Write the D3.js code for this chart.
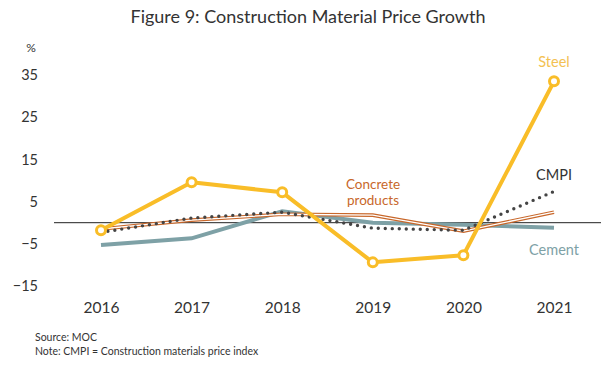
<!DOCTYPE html>
<html><head><meta charset="utf-8">
<script src="https://cdn.jsdelivr.net/npm/d3@7"></script>
<style>body{margin:0;background:#fff}svg{display:block}text{font-family:Lato,"Open Sans",sans-serif}</style>
</head><body><svg id="c" width="615" height="365"></svg>
<script>
const years = ["2016","2017","2018","2019","2020","2021"];
const steel = [-1.8, 9.6, 7.2, -9.4, -7.7, 33.5];
const cement = [-5.3, -3.7, 2.7, 0.0, -0.5, -1.2];
const concrete = [-1.5, 0.6, 2.0, 1.8, -2.0, 2.5];
const cmpi = [-2.3, 1.1, 2.5, -1.3, -1.8, 7.4];
const yTicks = [35, 25, 15, 5, -5, -15];

const svg = d3.select("#c");
const x = d3.scalePoint().domain(years).range([101, 554]);
const y = d3.scaleLinear().domain([-15, 35]).range([286, 75]);

svg.append("text").attr("x", 308).attr("y", 23).attr("text-anchor", "middle")
  .attr("font-size", 18).attr("fill", "#333").text("Figure 9: Construction Material Price Growth");

// y axis labels
const ya = svg.append("g").attr("transform", "translate(38,0)")
  .call(d3.axisLeft(y).tickValues(yTicks).tickSize(0).tickPadding(0).tickFormat(d3.format("d")));
ya.select(".domain").remove();
ya.selectAll("text").attr("font-size", 14.5).attr("fill", "#333").attr("font-family", "Lato,'Open Sans',sans-serif");
svg.append("text").attr("x", 31).attr("y", 52).attr("text-anchor", "middle").attr("font-size", 12).attr("fill", "#333").text("%");

// x axis labels
const xa = svg.append("g").attr("transform", "translate(0,302)")
  .call(d3.axisBottom(x).tickSize(0).tickPadding(0));
xa.select(".domain").remove();
xa.selectAll("text").attr("font-size", 15.5).attr("fill", "#333").attr("dy", "0.71em").attr("font-family", "Lato,'Open Sans',sans-serif");

// zero line
svg.append("line").attr("x1", 54).attr("x2", 601).attr("y1", y(0)).attr("y2", y(0))
  .attr("stroke", "#222").attr("stroke-width", 1);

const line = d3.line().x((d, i) => x(years[i])).y(d => y(d));

svg.append("path").datum(cement).attr("d", line).attr("fill", "none")
  .attr("stroke", "#7ea1a6").attr("stroke-width", 4);
svg.append("path").datum(concrete).attr("d", line).attr("fill", "none")
  .attr("stroke", "#c8672a").attr("stroke-width", 3.6);
svg.append("path").datum(concrete).attr("d", line).attr("fill", "none")
  .attr("stroke", "#fff").attr("stroke-width", 1.4);
svg.append("path").datum(cmpi).attr("d", line).attr("fill", "none")
  .attr("stroke", "#444").attr("stroke-width", 3.4).attr("stroke-linecap", "round")
  .attr("stroke-dasharray", "0,7");
svg.append("path").datum(steel).attr("d", line).attr("fill", "none")
  .attr("stroke", "#f9bd28").attr("stroke-width", 4).attr("stroke-linejoin", "round");
svg.selectAll(".m").data(steel).enter().append("circle")
  .attr("cx", (d, i) => x(years[i])).attr("cy", d => y(d)).attr("r", 4.5)
  .attr("fill", "#fff").attr("stroke", "#f9bd28").attr("stroke-width", 3);

// labels
svg.append("text").attr("x", 554).attr("y", 67).attr("text-anchor", "middle").attr("font-size", 14.5).attr("fill", "#f3c152").text("Steel");
svg.append("text").attr("x", 554).attr("y", 180).attr("text-anchor", "middle").attr("font-size", 14.5).attr("fill", "#333").text("CMPI");
svg.append("text").attr("x", 373).attr("y", 189).attr("text-anchor", "middle").attr("font-size", 13.5).attr("fill", "#c8672a").text("Concrete");
svg.append("text").attr("x", 373).attr("y", 205).attr("text-anchor", "middle").attr("font-size", 13.5).attr("fill", "#c8672a").text("products");
svg.append("text").attr("x", 554).attr("y", 255).attr("text-anchor", "middle").attr("font-size", 14.5).attr("fill", "#7ea1a6").text("Cement");

svg.append("text").attr("x", 35).attr("y", 341).attr("font-size", 10.5).attr("fill", "#333").text("Source: MOC");
svg.append("text").attr("x", 35).attr("y", 355).attr("font-size", 10.5).attr("fill", "#333").text("Note: CMPI = Construction materials price index");
</script></body></html>
